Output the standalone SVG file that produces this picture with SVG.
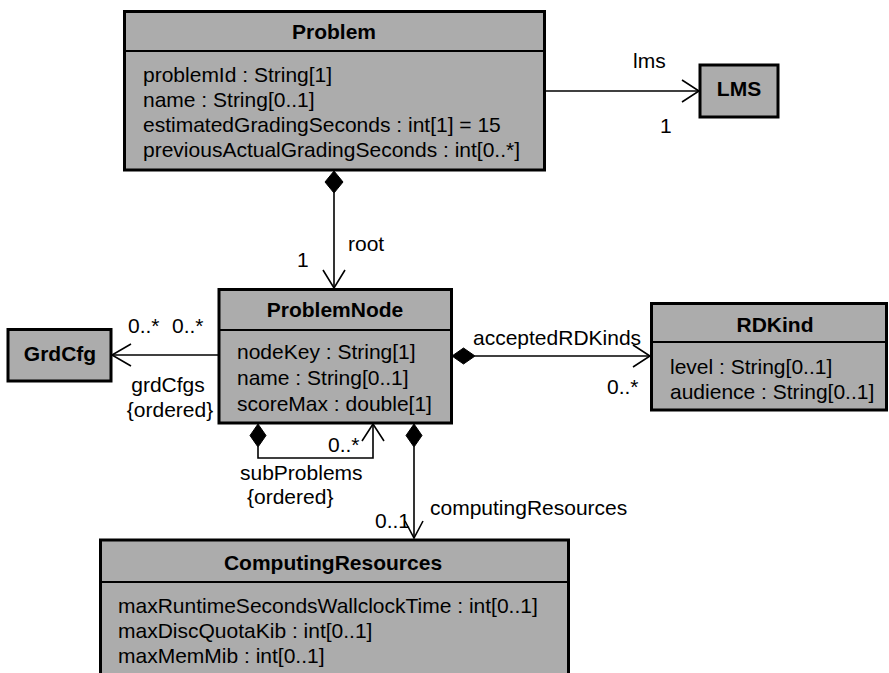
<svg xmlns="http://www.w3.org/2000/svg" width="889" height="673" viewBox="0 0 889 673">
  <style>
    text { font-family: "Liberation Sans", Arial, sans-serif; font-size: 21px; fill: #000; }
    .title { font-weight: bold; text-anchor: middle; }
    .box { fill: #acacac; stroke: #000; stroke-width: 3; }
    .sep { stroke: #000; stroke-width: 2; }
    .edge { fill: none; stroke: #000; stroke-width: 1.6; }
    .head { fill: none; stroke: #000; stroke-width: 1.6; }
    .dia { fill: #000; stroke: #000; stroke-width: 1; }
  </style>

  <rect width="889" height="673" fill="#fff"/>

  <!-- classes -->
  <g id="Problem">
    <rect class="box" x="124.5" y="11.5" width="420" height="158.5"/>
    <line class="sep" x1="124.5" y1="51" x2="544.5" y2="51"/>
    <text class="title" x="334" y="39">Problem</text>
    <text x="143" y="82">problemId : String[1]</text>
    <text x="143" y="107">name : String[0..1]</text>
    <text x="143" y="132">estimatedGradingSeconds : int[1] = 15</text>
    <text x="143" y="157">previousActualGradingSeconds : int[0..*]</text>
  </g>

  <g id="LMS">
    <rect class="box" x="700" y="65" width="78" height="52"/>
    <text class="title" x="739" y="96">LMS</text>
  </g>

  <g id="ProblemNode">
    <rect class="box" x="219" y="289.5" width="232.5" height="133.5"/>
    <line class="sep" x1="219" y1="330" x2="451.5" y2="330"/>
    <text class="title" x="335" y="317">ProblemNode</text>
    <text x="237" y="359">nodeKey : String[1]</text>
    <text x="237" y="385">name : String[0..1]</text>
    <text x="237" y="411">scoreMax : double[1]</text>
  </g>

  <g id="GrdCfg">
    <rect class="box" x="8" y="329.5" width="103" height="51.5"/>
    <text class="title" x="60" y="361">GrdCfg</text>
  </g>

  <g id="RDKind">
    <rect class="box" x="651.5" y="303.5" width="235" height="106.5"/>
    <line class="sep" x1="651.5" y1="342" x2="886.5" y2="342"/>
    <text class="title" x="775" y="332">RDKind</text>
    <text x="670" y="374">level : String[0..1]</text>
    <text x="670" y="399">audience : String[0..1]</text>
  </g>

  <g id="ComputingResources">
    <rect class="box" x="100.5" y="540" width="468" height="140"/>
    <line class="sep" x1="100.5" y1="582" x2="568.5" y2="582"/>
    <text class="title" x="333" y="570">ComputingResources</text>
    <text x="118" y="613">maxRuntimeSecondsWallclockTime : int[0..1]</text>
    <text x="118" y="638">maxDiscQuotaKib : int[0..1]</text>
    <text x="118" y="663">maxMemMib : int[0..1]</text>
  </g>

  <!-- associations -->
  <g id="connectors">
    <!-- Problem -> LMS -->
    <line class="edge" x1="546" y1="91" x2="699" y2="91"/>
    <polyline class="head" points="682,80 699,91 682,102"/>
    <text x="633" y="68">lms</text>
    <text x="660" y="133">1</text>

    <!-- Problem <>-> ProblemNode (root) -->
    <polygon class="dia" points="334,171 343,182 334,193 325,182"/>
    <line class="edge" x1="334" y1="193" x2="334" y2="288"/>
    <polyline class="head" points="323,270 334,288 345,270"/>
    <text x="348" y="251">root</text>
    <text x="297" y="267">1</text>

    <!-- ProblemNode -> GrdCfg -->
    <line class="edge" x1="218" y1="355" x2="112" y2="355"/>
    <polyline class="head" points="131,344 112,355 131,366"/>
    <text x="128" y="333">0..*</text>
    <text x="172" y="333">0..*</text>
    <text x="168" y="392" text-anchor="middle">grdCfgs</text>
    <text x="170" y="417" text-anchor="middle">{ordered}</text>

    <!-- ProblemNode <>-> RDKind -->
    <polygon class="dia" points="452,356 463.5,348 475,356 463.5,364"/>
    <line class="edge" x1="475" y1="356" x2="650" y2="356"/>
    <polyline class="head" points="633,345 650,356 633,367"/>
    <text x="473" y="345">acceptedRDKinds</text>
    <text x="607" y="394">0..*</text>

    <!-- ProblemNode <>-> ProblemNode (subProblems) -->
    <polygon class="dia" points="258,424 266,435.5 258,447 250,435.5"/>
    <polyline class="edge" points="258,447 258,458 373,458 373,424"/>
    <polyline class="head" points="362,441 373,424 384,441"/>
    <text x="328" y="452">0..*</text>
    <text x="240" y="480">subProblems</text>
    <text x="247" y="504">{ordered}</text>

    <!-- ProblemNode <>-> ComputingResources -->
    <polygon class="dia" points="414,424 422,435.5 414,447 406,435.5"/>
    <line class="edge" x1="414" y1="447" x2="414" y2="538"/>
    <polyline class="head" points="405,521 414,538 423,521"/>
    <text x="375" y="528">0..1</text>
    <text x="430" y="515">computingResources</text>
  </g>
</svg>
